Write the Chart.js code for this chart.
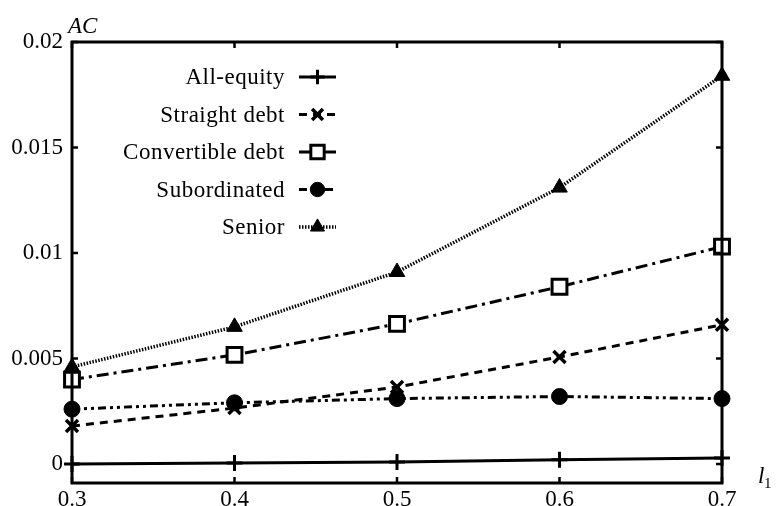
<!DOCTYPE html>
<html>
<head>
<meta charset="utf-8">
<script src="https://cdn.jsdelivr.net/npm/chart.js@4.4.0/dist/chart.umd.min.js"></script>
<style>
  html, body { margin: 0; padding: 0; background: #fff; }
  #wrap { width: 776px; height: 506px; }
</style>
</head>
<body>
<div id="wrap"><canvas id="chart" width="776" height="506"></canvas></div>
<script>
// values
const l1Values = [0.3, 0.4, 0.5, 0.6, 0.7];
const allEquity = [0.0, 0.00005, 0.0001, 0.0002, 0.00028];
const straightDebt = [0.0018, 0.00265, 0.00365, 0.00507, 0.0066];
const convertibleDebt = [0.0040, 0.00517, 0.00664, 0.0084, 0.0103];
const subordinated = [0.0026, 0.0029, 0.0031, 0.0032, 0.0031];
const senior = [0.0046, 0.0065, 0.0091, 0.0131, 0.0184];

const seriesNames = ["All-equity", "Straight debt", "Convertible debt", "Subordinated", "Senior"];
const xTicks = [0.3, 0.4, 0.5, 0.6, 0.7];
const yTicks = [0, 0.005, 0.01, 0.015, 0.02];
const yTickLabels = ["0", "0.005", "0.01", "0.015", "0.02"];

function toPoints(values) {
    return values.map((v, i) => ({ x: l1Values[i], y: v }));
}

function makeDataset(label, values, style) {
    return Object.assign({
        label: label,
        data: toPoints(values),
        borderColor: "#000",
        backgroundColor: "#000",
        pointBorderColor: "#000",
        pointBackgroundColor: "#000",
        borderWidth: 3,
        tension: 0,
        clip: false
    }, style);
}

const datasets = [
    makeDataset(seriesNames[0], allEquity, { pointStyle: "cross", pointRadius: 8, pointBorderWidth: 3 }),
    makeDataset(seriesNames[1], straightDebt, { borderDash: [8, 6], pointStyle: "crossRot", pointRadius: 8.5, pointBorderWidth: 3.5 }),
    makeDataset(seriesNames[2], convertibleDebt, { borderDash: [12, 5, 3, 5], pointStyle: "rect", pointRadius: 10.5, pointBorderWidth: 3, pointBackgroundColor: "#fff" }),
    makeDataset(seriesNames[3], subordinated, { borderDash: [8, 4, 3, 4, 3, 4], pointStyle: "circle", pointRadius: 8, pointBorderWidth: 1 }),
    makeDataset(seriesNames[4], senior, { borderDash: [1.5, 1.5], borderWidth: 3.5, pointStyle: "triangle", pointRadius: 9, pointBorderWidth: 1 })
];

// frame, inward ticks, axis titles and the legend
const framePlugin = {
    id: "frame",
    afterDraw(chart) {
        const ctx = chart.ctx;
        const a = chart.chartArea;
        const xs = chart.scales.x;
        const ys = chart.scales.y;
        ctx.save();
        ctx.strokeStyle = "#000";
        ctx.lineWidth = 3;
        ctx.setLineDash([]);
        ctx.strokeRect(a.left, a.top, a.right - a.left, a.bottom - a.top);

        ctx.lineWidth = 2.5;
        const tl = 6;
        xTicks.forEach(v => {
            const px = xs.getPixelForValue(v);
            ctx.beginPath();
            ctx.moveTo(px, a.bottom); ctx.lineTo(px, a.bottom - tl);
            ctx.moveTo(px, a.top); ctx.lineTo(px, a.top + tl);
            ctx.stroke();
        });
        yTicks.forEach(v => {
            const py = ys.getPixelForValue(v);
            ctx.beginPath();
            ctx.moveTo(a.left, py); ctx.lineTo(a.left + tl, py);
            ctx.moveTo(a.right, py); ctx.lineTo(a.right - tl, py);
            ctx.stroke();
        });

        ctx.fillStyle = "#000";
        ctx.textAlign = "left";
        ctx.textBaseline = "alphabetic";
        ctx.font = 'italic 23px "Liberation Serif"';
        ctx.fillText("AC", 68, 33);
        ctx.fillText("l", 758, 483);
        ctx.font = '15px "Liberation Serif"';
        ctx.fillText("1", 764, 488);

        // legend: text right aligned, sample line on the right
        const textRight = 285;
        const lineLeft = 299;
        const lineRight = 336;
        const rowTop = 77;
        const rowGap = 37.5;
        ctx.font = '23px "Liberation Serif"';
        ctx.letterSpacing = "0.5px";
        chart.data.datasets.forEach((ds, i) => {
            const y = rowTop + i * rowGap;
            ctx.textAlign = "right";
            ctx.textBaseline = "middle";
            ctx.fillStyle = "#000";
            ctx.fillText(ds.label, textRight, y + 1);
            ctx.beginPath();
            ctx.lineWidth = ds.borderWidth;
            ctx.setLineDash(ds.borderDash || []);
            ctx.moveTo(lineLeft, y); ctx.lineTo(lineRight, y);
            ctx.stroke();
            ctx.setLineDash([]);
            ctx.fillStyle = ds.pointBackgroundColor;
            ctx.strokeStyle = "#000";
            ctx.lineWidth = ds.pointBorderWidth;
            Chart.helpers.drawPoint(ctx, {
                pointStyle: ds.pointStyle,
                radius: ds.pointRadius * 0.9,
                rotation: 0,
                borderWidth: ds.pointBorderWidth
            }, (lineLeft + lineRight) / 2, y);
        });
        ctx.restore();
    }
};

new Chart(document.getElementById("chart"), {
    type: "line",
    data: { datasets: datasets },
    options: {
        responsive: false,
        animation: false,
        layout: { padding: { left: 0, right: 54, top: 42, bottom: 0 } },
        plugins: {
            legend: { display: false },
            tooltip: { enabled: false }
        },
        scales: {
            x: {
                type: "linear",
                min: 0.3,
                max: 0.7,
                afterBuildTicks: scale => { scale.ticks = xTicks.map(v => ({ value: v })); },
                afterFit: scale => { scale.height = 23; },
                grid: { display: false, drawTicks: false },
                border: { display: false },
                ticks: {
                    color: "#000",
                    padding: 3,
                    maxRotation: 0,
                    font: { family: "Liberation Serif", size: 23 },
                    callback: v => v.toFixed(1)
                }
            },
            y: {
                type: "linear",
                min: -0.0009,
                max: 0.02,
                afterBuildTicks: scale => { scale.ticks = yTicks.map(v => ({ value: v })); },
                afterFit: scale => { scale.width = 72; },
                grid: { display: false, drawTicks: false },
                border: { display: false },
                ticks: {
                    color: "#000",
                    padding: 9,
                    font: { family: "Liberation Serif", size: 23 },
                    callback: (v) => {
                        const i = yTicks.indexOf(v);
                        return i >= 0 ? yTickLabels[i] : "";
                    }
                }
            }
        }
    },
    plugins: [framePlugin]
});
</script>
</body>
</html>
